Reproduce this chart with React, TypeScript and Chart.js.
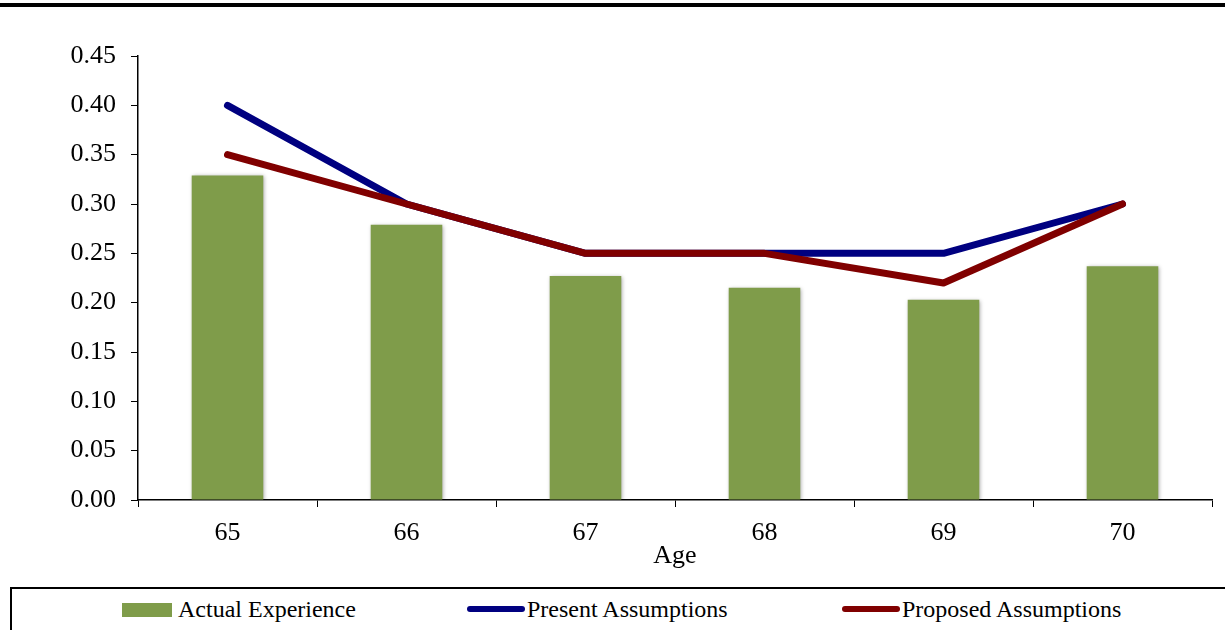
import React, { useEffect, useRef } from "react";
import { Chart, registerables } from "chart.js";

Chart.register(...registerables);

const ages = ["65", "66", "67", "68", "69", "70"];
const actualExperience = [0.329, 0.279, 0.227, 0.215, 0.203, 0.237];
const presentAssumptions = [0.4, 0.3, 0.25, 0.25, 0.25, 0.3];
const proposedAssumptions = [0.35, 0.3, 0.25, 0.25, 0.22, 0.3];
const seriesNames = ["Actual Experience", "Present Assumptions", "Proposed Assumptions"];
const xTitle = "Age";

const GREEN = "#7F9C4A";
const NAVY = "#000080";
const DARKRED = "#800000";
const FONT = "'Liberation Serif', 'Times New Roman', serif";

export default function App() {
  const canvasRef = useRef<HTMLCanvasElement | null>(null);

  useEffect(() => {
    document.body.style.margin = "0";
    const canvas = canvasRef.current;
    if (!canvas) return;
    const shadowPlugin = {
      id: "barShadow",
      beforeDatasetDraw(chart: any, args: any) {
        if (args.index === 0) {
          const ctx = chart.ctx;
          ctx.save();
          ctx.shadowColor = "rgba(0,0,0,0.35)";
          ctx.shadowBlur = 4;
          ctx.shadowOffsetX = 1;
          ctx.shadowOffsetY = 1;
        }
      },
      afterDatasetDraw(chart: any, args: any) {
        if (args.index === 0) chart.ctx.restore();
      },
    };
    const chart = new Chart(canvas, {
      type: "bar",
      data: {
        labels: ages,
        datasets: [
          {
            type: "bar",
            label: seriesNames[0],
            data: actualExperience,
            backgroundColor: GREEN,
            barPercentage: 0.4,
            categoryPercentage: 1,
            order: 3,
          },
          {
            type: "line",
            label: seriesNames[1],
            data: presentAssumptions,
            borderColor: NAVY,
            backgroundColor: NAVY,
            borderWidth: 7,
            pointRadius: 0,
            borderCapStyle: "round",
            borderJoinStyle: "round",
            tension: 0,
            order: 2,
          },
          {
            type: "line",
            label: seriesNames[2],
            data: proposedAssumptions,
            borderColor: DARKRED,
            backgroundColor: DARKRED,
            borderWidth: 7,
            pointRadius: 0,
            borderCapStyle: "round",
            borderJoinStyle: "round",
            tension: 0,
            order: 1,
          },
        ],
      },
      options: {
        responsive: false,
        animation: false,
        layout: { padding: { top: 56, right: 13, left: 0, bottom: 8 } },
        plugins: {
          legend: { display: false },
          tooltip: { enabled: false },
        },
        scales: {
          x: {
            offset: true,
            grid: {
              offset: true,
              drawOnChartArea: false,
              drawTicks: true,
              tickLength: 7,
              color: "#000",
            },
            border: { color: "#000", width: 1.5 },
            ticks: { color: "#000", font: { family: FONT, size: 26 }, padding: 11 },
            title: {
              display: true,
              text: xTitle,
              color: "#000",
              font: { family: FONT, size: 26 },
              padding: { top: 0, bottom: 0 },
            },
            afterFit(scale: any) {
              scale.height = 72;
            },
          },
          y: {
            min: 0,
            max: 0.45,
            grid: {
              drawOnChartArea: false,
              drawTicks: true,
              tickLength: 7,
              color: "#000",
            },
            border: { color: "#000", width: 1.5 },
            ticks: {
              stepSize: 0.05,
              color: "#000",
              font: { family: FONT, size: 26 },
              padding: 15,
              callback: (v: any) => Number(v).toFixed(2),
            },
            afterFit(scale: any) {
              scale.width = 138;
            },
          },
        },
      },
      plugins: [shadowPlugin],
    } as any);
    return () => chart.destroy();
  }, []);

  const legendText: React.CSSProperties = {
    position: "absolute",
    top: 595,
    fontFamily: FONT,
    fontSize: 24,
    lineHeight: "28px",
    color: "#000",
    whiteSpace: "nowrap",
  };

  return (
    <div style={{ position: "relative", width: 1225, height: 630, overflow: "hidden", background: "#fff" }}>
      <div style={{ position: "absolute", left: 0, top: 3, width: 1225, height: 4, background: "#000" }} />
      <canvas ref={canvasRef} width={1225} height={580} style={{ position: "absolute", left: 0, top: 0 }} />
      <div
        style={{
          position: "absolute",
          left: 10,
          top: 587,
          width: 1240,
          height: 60,
          border: "2px solid #000",
          boxSizing: "border-box",
        }}
      />
      <div style={{ position: "absolute", left: 122, top: 603, width: 50, height: 14, background: GREEN }} />
      <div style={{ ...legendText, left: 178 }}>{seriesNames[0]}</div>
      <div style={{ position: "absolute", left: 467, top: 606, width: 58, height: 6, borderRadius: 3, background: NAVY }} />
      <div style={{ ...legendText, left: 527 }}>{seriesNames[1]}</div>
      <div style={{ position: "absolute", left: 842, top: 606, width: 58, height: 6, borderRadius: 3, background: DARKRED }} />
      <div style={{ ...legendText, left: 902 }}>{seriesNames[2]}</div>
    </div>
  );
}
